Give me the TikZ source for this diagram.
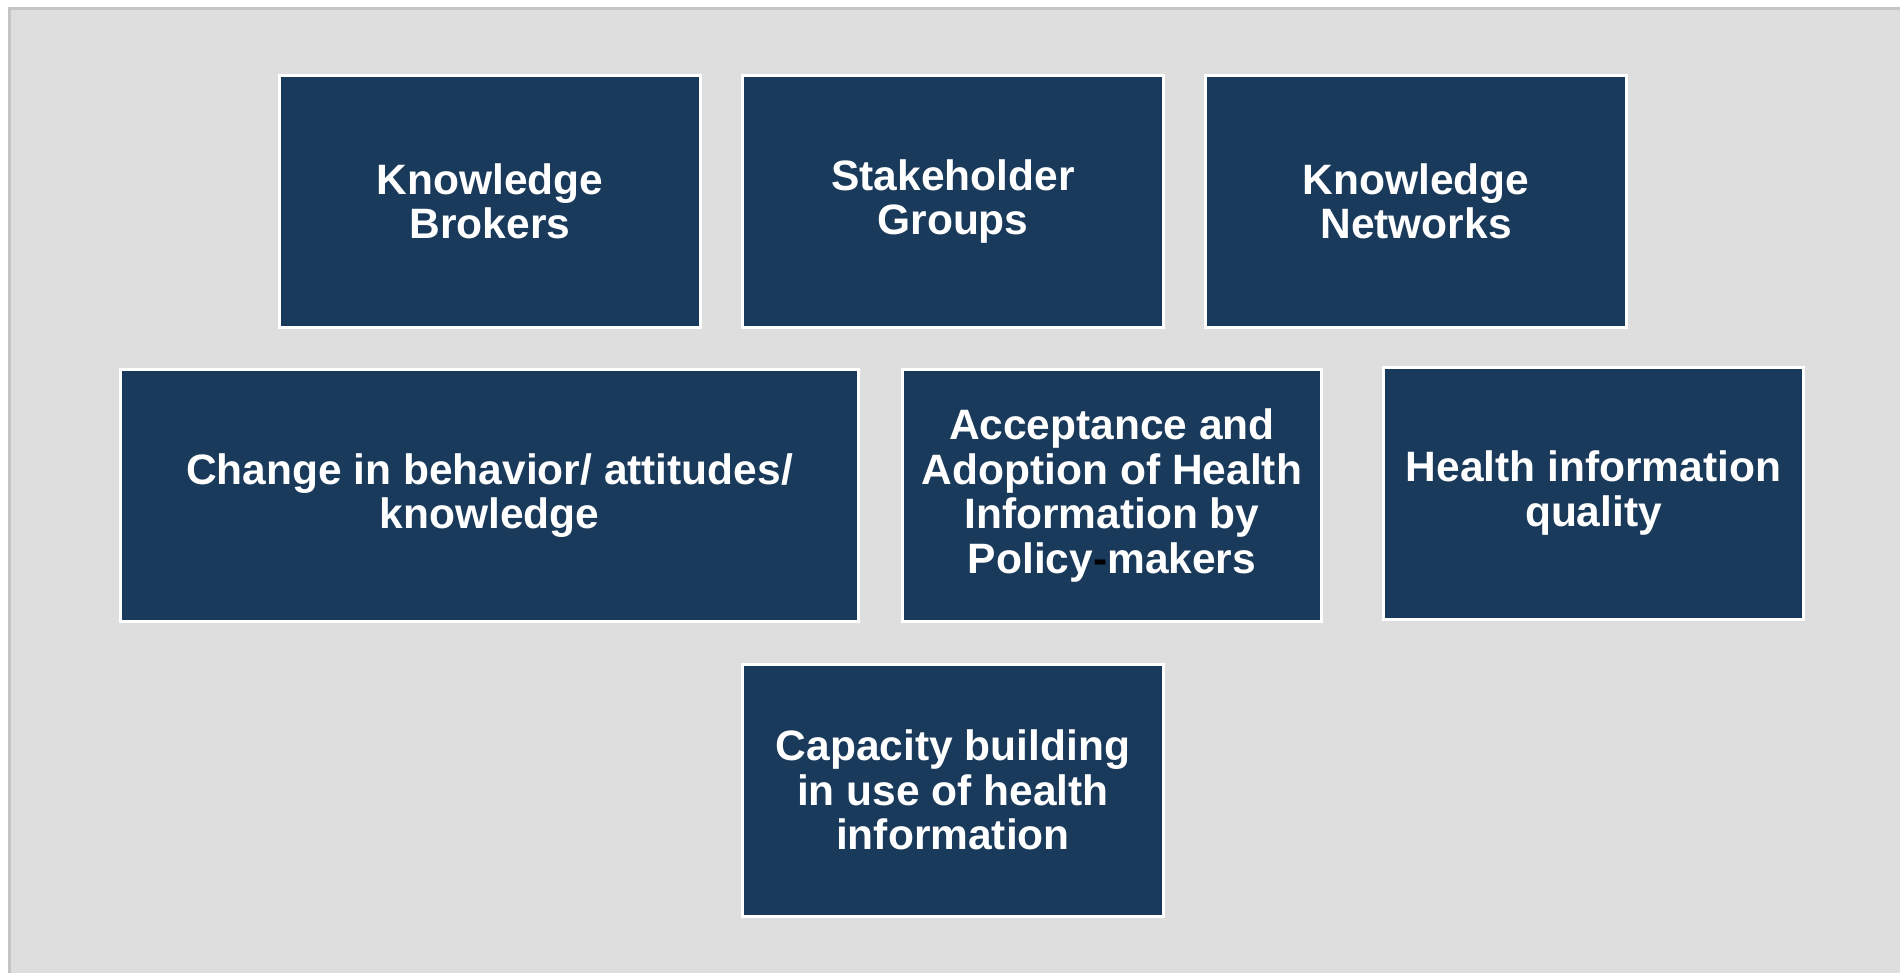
\documentclass[tikz,border=0pt]{standalone}
\usepackage{fontspec}
\setmainfont{Liberation Sans}
\definecolor{panelgrey}{HTML}{DEDEDE}
\definecolor{framegrey}{HTML}{C4C4C4}
\definecolor{boxblue}{HTML}{1A3A5B}
\tikzset{
  kbox/.style={draw=white, line width=3pt, fill=boxblue, text=white,
    align=center, font=\bfseries\fontsize{42.5}{44.5}\selectfont,
    minimum width=421pt, minimum height=252pt, inner sep=0pt},
}
\begin{document}
\begin{tikzpicture}[x=1pt, y=-1pt]
    \useasboundingbox (0,0) rectangle (1900,973);
    % Background panel
    \fill[panelgrey] (9,9) rectangle (1900,973);
    \draw[framegrey, line width=3pt] (9,973) -- (9,9) -- (1900,9);

    % Top row
    \node[kbox] (brokers) at (490,201.5) {Knowledge\\Brokers};
    \node[kbox] (stakeholders) at (953,201.5) {Stakeholder\\Groups};
    \node[kbox] (networks) at (1416,201.5) {Knowledge\\Networks};

    % Middle row
    \node[kbox, minimum width=738pt] (change) at (489.5,495.5) {Change in behavior/ attitudes/\\knowledge};
    \node[kbox, minimum width=419pt] (adoption) at (1112,495.5) {Acceptance and\\Adoption of Health\\Information by\\Policy{\color{black}-}makers};
    \node[kbox, minimum width=420pt] (quality) at (1593.5,493) {Health information\\quality};

    % Bottom row
    \node[kbox] (capacity) at (953,790) {Capacity building\\in use of health\\information};
\end{tikzpicture}
\end{document}
